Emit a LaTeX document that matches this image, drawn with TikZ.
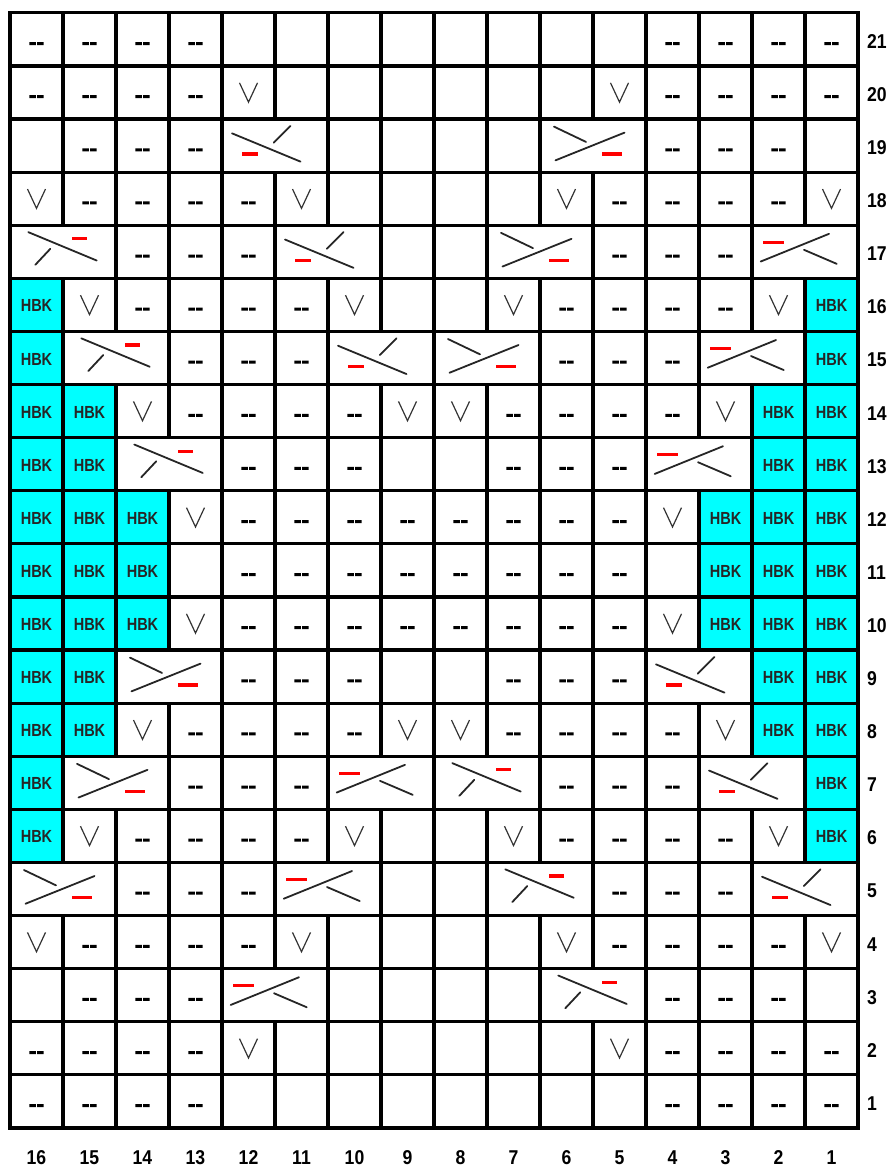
\documentclass[tikz,border=0pt]{standalone}
\usepackage{fontspec}
\setmainfont{Liberation Sans}
\definecolor{hbkcyan}{RGB}{0,255,255}
\definecolor{purlred}{RGB}{255,0,0}
\tikzset{
  cellbox/.style={draw=black, line width=3.2pt, minimum height=53.1pt, inner sep=0pt, outer sep=0pt},
  cable/.style={draw=black!85, line width=1.8pt, line cap=round},
  purl/.style={draw=purlred, line width=3.2pt},
  vmark/.style={draw=black!80, line width=1.2pt},
  dashfill/.style={fill=black},
  hbk/.style={font=\bfseries\fontsize{17.5}{17.5}\selectfont, text=black!85, inner sep=0pt},
  lbl/.style={font=\bfseries\fontsize{20}{20}\selectfont, inner sep=0pt}
}
% cell contents
\newcommand\cellE{\node[cellbox,minimum width=53pt] (cell-\r-\i) at (0,0) {};}
\newcommand\cellD{\cellE\fill[dashfill] (-7.2,-5.7) rectangle (-0.7,-2.7) (0.7,-5.7) rectangle (7.2,-2.7);}
\newcommand\cellV{\cellE\draw[vmark] (-9,9.7) -- (0,-9.6) -- (9,9.7);}
\newcommand\cellH{\cellE\node[hbk] (hbk-\r-\i) at (0,-1) {\scalebox{0.83}[1]{HBK}};}
\newcommand\cellX{}
\newcommand\cablebox{\node[cellbox,minimum width=106pt] (cell-\r-\i) at (26.5,0) {};}
% T1: long \, short / top right, purl bottom left
\newcommand\cellA{\cablebox\begin{scope}[shift={(26.5,0)}]
  \draw[cable] (-43,12.3) -- (25.5,-16);
  \draw[cable] (-1.2,3) -- (15.5,19.7);
  \draw[purl] (-33,-8.3) -- (-17,-8.3);
\end{scope}}
% T2: short \ top left, long /, purl bottom right
\newcommand\cellB{\cablebox\begin{scope}[shift={(26.5,0)}]
  \draw[cable] (-39,19) -- (-7,3.7);
  \draw[cable] (-37.5,-14.7) -- (31.5,13);
  \draw[purl] (9,-8.3) -- (29,-8.3);
\end{scope}}
% T3: long \, short / bottom left, purl top right
\newcommand\cellC{\cablebox\begin{scope}[shift={(26.5,0)}]
  \draw[cable] (-34.7,19.7) -- (33.7,-8.7);
  \draw[cable] (-27.7,-13) -- (-12.7,3);
  \draw[purl] (9,13) -- (23.7,13);
\end{scope}}
% T4: purl top left, long /, short \ bottom right
\newcommand\cellG{\cablebox\begin{scope}[shift={(26.5,0)}]
  \draw[cable] (-44.3,-9.7) -- (24,18);
  \draw[cable] (-1,2) -- (31.7,-12);
  \draw[purl] (-41.7,9.7) -- (-21,9.7);
\end{scope}}
\newcommand\fillH{\fill[hbkcyan] (-26.5,-26.55) rectangle (26.5,26.55);}
\newcommand\fillE{}\newcommand\fillD{}\newcommand\fillV{}\newcommand\fillX{}
\newcommand\fillA{}\newcommand\fillB{}\newcommand\fillC{}\newcommand\fillG{}
\newcommand\chartdata{
21/{D,D,D,D,E,E,E,E,E,E,E,E,D,D,D,D},
20/{D,D,D,D,V,E,E,E,E,E,E,V,D,D,D,D},
19/{E,D,D,D,A,X,E,E,E,E,B,X,D,D,D,E},
18/{V,D,D,D,D,V,E,E,E,E,V,D,D,D,D,V},
17/{C,X,D,D,D,A,X,E,E,B,X,D,D,D,G,X},
16/{H,V,D,D,D,D,V,E,E,V,D,D,D,D,V,H},
15/{H,C,X,D,D,D,A,X,B,X,D,D,D,G,X,H},
14/{H,H,V,D,D,D,D,V,V,D,D,D,D,V,H,H},
13/{H,H,C,X,D,D,D,E,E,D,D,D,G,X,H,H},
12/{H,H,H,V,D,D,D,D,D,D,D,D,V,H,H,H},
11/{H,H,H,E,D,D,D,D,D,D,D,D,E,H,H,H},
10/{H,H,H,V,D,D,D,D,D,D,D,D,V,H,H,H},
9/{H,H,B,X,D,D,D,E,E,D,D,D,A,X,H,H},
8/{H,H,V,D,D,D,D,V,V,D,D,D,D,V,H,H},
7/{H,B,X,D,D,D,G,X,C,X,D,D,D,A,X,H},
6/{H,V,D,D,D,D,V,E,E,V,D,D,D,D,V,H},
5/{B,X,D,D,D,G,X,E,E,C,X,D,D,D,A,X},
4/{V,D,D,D,D,V,E,E,E,E,V,D,D,D,D,V},
3/{E,D,D,D,G,X,E,E,E,E,C,X,D,D,D,E},
2/{D,D,D,D,V,E,E,E,E,E,E,V,D,D,D,D},
1/{D,D,D,D,E,E,E,E,E,E,E,E,D,D,D,D}}
\begin{document}
\begin{tikzpicture}[x=1pt,y=1pt]
\useasboundingbox (0,0) rectangle (896,1169);
% pass 1: cyan fills
\foreach \r/\lst in \chartdata {
  \foreach \t [count=\i] in \lst {
    \pgfmathsetmacro\cx{10+(\i-0.5)*53}
    \pgfmathsetmacro\cy{41+(\r-0.5)*53.1}
    \begin{scope}[shift={(\cx,\cy)}]\csname fill\t\endcsname\end{scope}
  }
}
% pass 2: borders and symbols
\foreach \r/\lst in \chartdata {
  \foreach \t [count=\i] in \lst {
    \pgfmathsetmacro\cx{10+(\i-0.5)*53}
    \pgfmathsetmacro\cy{41+(\r-0.5)*53.1}
    \begin{scope}[shift={(\cx,\cy)}]\csname cell\t\endcsname\end{scope}
  }
  \pgfmathsetmacro\ly{41+(\r-0.5)*53.1-2}
  \node[lbl,anchor=west] (row-\r) at (867,\ly) {\scalebox{0.88}[1]{\r}};
}
% column numbers
\foreach \c in {1,...,16} {
  \pgfmathsetmacro\lx{10+(16-\c+0.5)*53}
  \node[lbl] (col-\c) at (\lx,11) {\scalebox{0.88}[1]{\c}};
}
\end{tikzpicture}
\end{document}
